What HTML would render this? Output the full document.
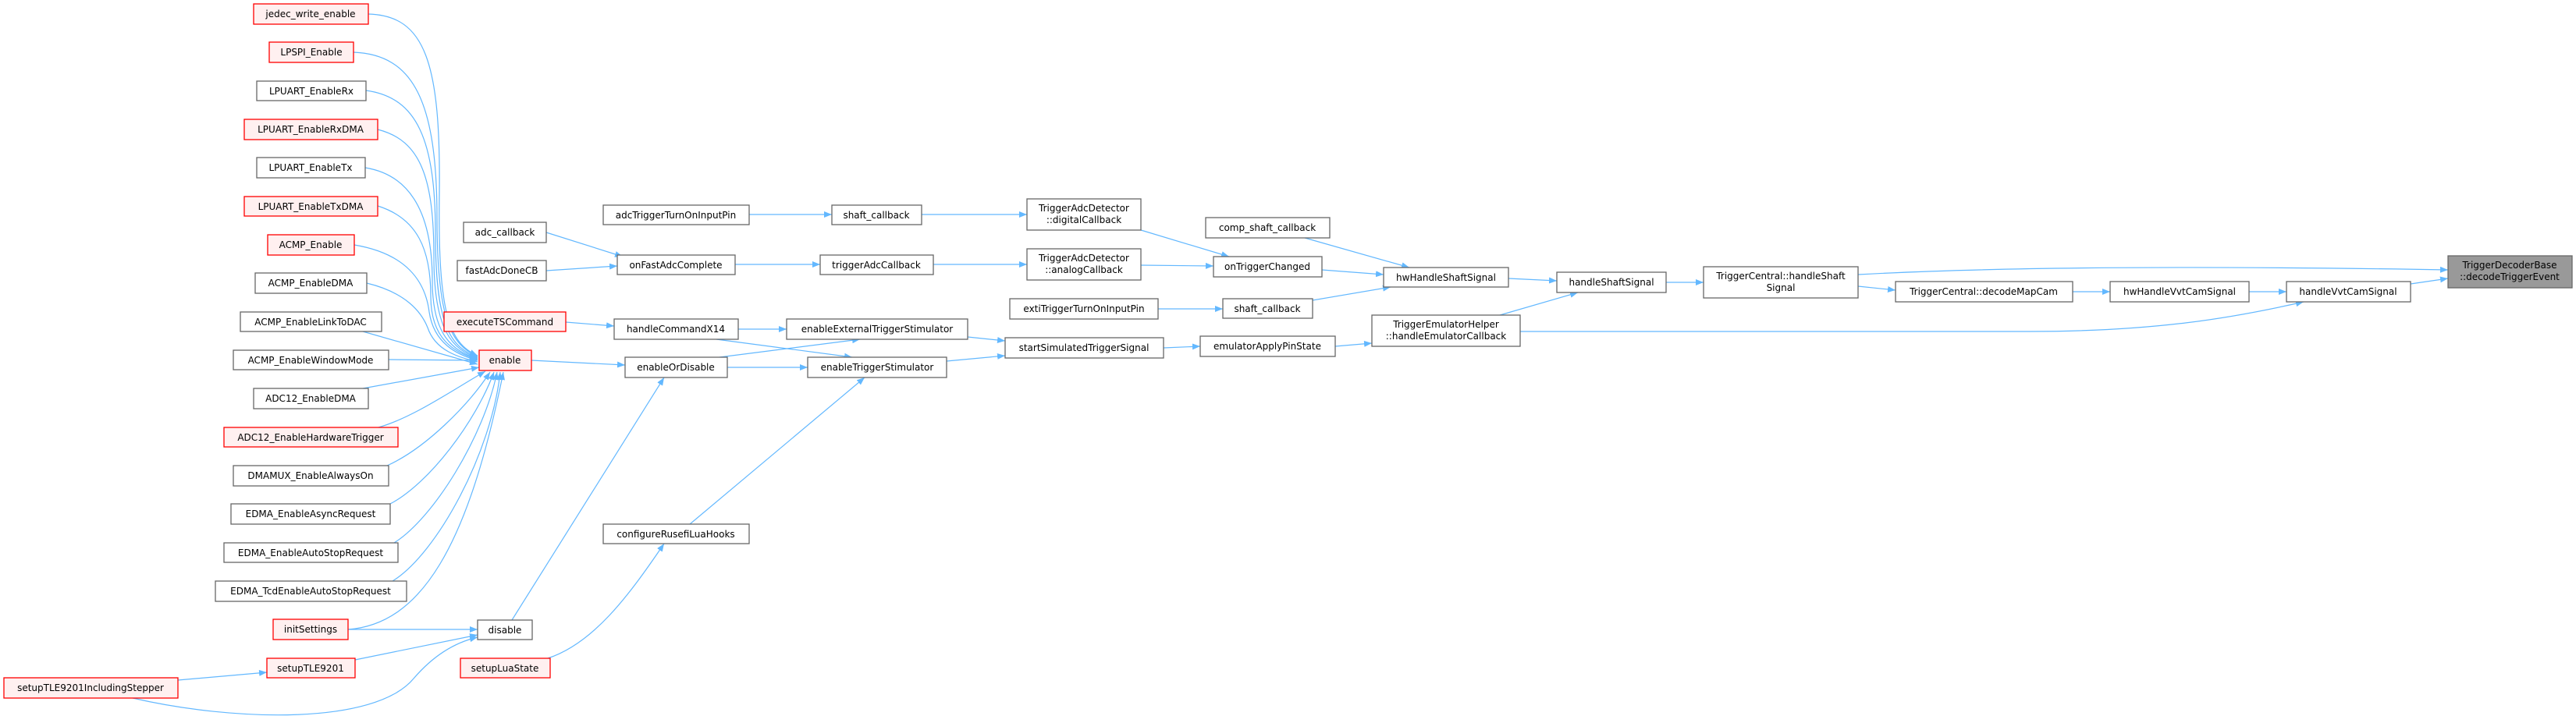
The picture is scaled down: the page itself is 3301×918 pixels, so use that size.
<!DOCTYPE html>
<html><head><meta charset="utf-8"><style>
html,body{margin:0;padding:0;background:#fff;}
svg{display:block;}
text{font-family:"DejaVu Sans","Liberation Sans",sans-serif;font-size:12px;fill:#000;text-anchor:middle;}
.n rect{fill:#fff;stroke:#666;stroke-width:1.3;}
.r rect{fill:#fff0f0;stroke:#ff0000;stroke-width:1.3;}
.g rect{fill:#999;stroke:#666;stroke-width:1.3;}
path.e{fill:none;stroke:#63b8ff;stroke-width:1.2;}
</style></head><body>
<svg width="3301" height="918" viewBox="0 0 3301 918" xmlns="http://www.w3.org/2000/svg">
<defs><marker id="a" markerUnits="userSpaceOnUse" markerWidth="11" markerHeight="8" refX="10" refY="4" orient="auto"><path d="M0,0 L10,4 L0,8 z" fill="#63b8ff"/></marker></defs>
<g marker-end="url(#a)">
<path class="e" d="M472,18 C545,20 565,80 563,250 C561,400 575,440 612,456"/>
<path class="e" d="M453,67 C530,70 560,130 560,280 C560,410 578,442 612,457"/>
<path class="e" d="M469,116 C535,125 558,180 558,300 C558,420 578,445 612,458"/>
<path class="e" d="M484,166 C540,180 556,230 556,330 C556,425 580,448 612,459"/>
<path class="e" d="M468,215 C530,225 554,280 554,360 C554,430 580,450 612,460"/>
<path class="e" d="M484,264 C535,280 552,320 552,380 C552,435 582,452 612,461"/>
<path class="e" d="M454,314 C520,325 545,360 550,400 C556,440 585,455 612,462"/>
<path class="e" d="M470,363 C520,375 540,400 548,420 C558,450 588,458 612,464"/>
<path class="e" d="M465,425 L612,467"/>
<path class="e" d="M498,461 L612,462"/>
<path class="e" d="M465,498 L614,471"/>
<path class="e" d="M485,548 C530,535 580,500 622,476"/>
<path class="e" d="M496,597 C545,575 600,520 628,477"/>
<path class="e" d="M500,646 C550,620 610,540 633,477"/>
<path class="e" d="M505,696 C555,665 620,560 637,477"/>
<path class="e" d="M503,745 C560,710 630,580 641,477"/>
<path class="e" d="M446,807 C540,800 600,700 645,477"/>
<path class="e" d="M446,807 L612,807"/>
<path class="e" d="M455,846 L612,814"/>
<path class="e" d="M228,872 L342,862"/>
<path class="e" d="M170,895 C300,925 480,930 530,870 C560,835 590,822 612,817"/>
<path class="e" d="M700,298 L798,329"/>
<path class="e" d="M700,347 L791,341"/>
<path class="e" d="M725,413 L787,418"/>
<path class="e" d="M681,462 L801,468"/>
<path class="e" d="M656,795 L851,484"/>
<path class="e" d="M702,844 C760,825 805,765 851,697"/>
<path class="e" d="M884,672 L1108,484"/>
<path class="e" d="M946,422 L1008,422"/>
<path class="e" d="M918,435 L1092,458"/>
<path class="e" d="M922,458 L1102,435"/>
<path class="e" d="M932,471 L1035,471"/>
<path class="e" d="M960,275 L1066,275"/>
<path class="e" d="M1181,275 L1316,275"/>
<path class="e" d="M942,339 L1051,339"/>
<path class="e" d="M1196,339 L1316,339"/>
<path class="e" d="M1240,432 L1288,437"/>
<path class="e" d="M1213,463 L1288,456"/>
<path class="e" d="M1462,295 L1575,329"/>
<path class="e" d="M1462,340 L1555,341"/>
<path class="e" d="M1484,396 L1567,396"/>
<path class="e" d="M1491,446 L1538,444"/>
<path class="e" d="M1672,305 L1806,343"/>
<path class="e" d="M1694,346 L1773,352"/>
<path class="e" d="M1682,385 L1782,368"/>
<path class="e" d="M1711,444 L1758,440"/>
<path class="e" d="M1933,357 L1995,360"/>
<path class="e" d="M1922,404 L2022,375"/>
<path class="e" d="M2135,362 L2183,362"/>
<path class="e" d="M2381,352 C2600,340 2900,342 3137,346"/>
<path class="e" d="M2381,367 L2429,372"/>
<path class="e" d="M2656,374 L2704,374"/>
<path class="e" d="M2882,374 L2930,374"/>
<path class="e" d="M3089,364 L3137,357"/>
<path class="e" d="M1948,425 L2600,425 C2760,425 2860,408 2952,387"/>
</g>

<g class="r"><rect x="325" y="5" width="147" height="26"/><text x="398" y="22">jedec_write_enable</text></g>
<g class="r"><rect x="345" y="54" width="108" height="26"/><text x="399" y="71">LPSPI_Enable</text></g>
<g class="n"><rect x="329" y="104" width="140" height="25"/><text x="399" y="121">LPUART_EnableRx</text></g>
<g class="r"><rect x="313" y="153" width="171" height="26"/><text x="398" y="170">LPUART_EnableRxDMA</text></g>
<g class="n"><rect x="329" y="202" width="139" height="26"/><text x="398" y="219">LPUART_EnableTx</text></g>
<g class="r"><rect x="313" y="252" width="171" height="25"/><text x="398" y="269">LPUART_EnableTxDMA</text></g>
<g class="r"><rect x="343" y="301" width="111" height="26"/><text x="398" y="318">ACMP_Enable</text></g>
<g class="n"><rect x="327" y="350" width="143" height="26"/><text x="398" y="367">ACMP_EnableDMA</text></g>
<g class="n"><rect x="308" y="400" width="181" height="25"/><text x="398" y="417">ACMP_EnableLinkToDAC</text></g>
<g class="n"><rect x="299" y="449" width="199" height="25"/><text x="398" y="466">ACMP_EnableWindowMode</text></g>
<g class="n"><rect x="325" y="498" width="147" height="26"/><text x="398" y="515">ADC12_EnableDMA</text></g>
<g class="r"><rect x="287" y="548" width="223" height="25"/><text x="398" y="565">ADC12_EnableHardwareTrigger</text></g>
<g class="n"><rect x="299" y="597" width="199" height="26"/><text x="398" y="614">DMAMUX_EnableAlwaysOn</text></g>
<g class="n"><rect x="296" y="646" width="204" height="26"/><text x="398" y="663">EDMA_EnableAsyncRequest</text></g>
<g class="n"><rect x="287" y="696" width="223" height="25"/><text x="398" y="713">EDMA_EnableAutoStopRequest</text></g>
<g class="n"><rect x="276" y="745" width="245" height="26"/><text x="398" y="762">EDMA_TcdEnableAutoStopRequest</text></g>
<g class="r"><rect x="350" y="794" width="96" height="26"/><text x="398" y="811">initSettings</text></g>
<g class="r"><rect x="342" y="844" width="113" height="25"/><text x="398" y="861">setupTLE9201</text></g>
<g class="r"><rect x="5" y="869" width="223" height="26"/><text x="116" y="886">setupTLE9201IncludingStepper</text></g>

<g class="n"><rect x="594" y="285" width="106" height="26"/><text x="647" y="302">adc_callback</text></g>
<g class="n"><rect x="586" y="334" width="114" height="26"/><text x="643" y="351">fastAdcDoneCB</text></g>
<g class="r"><rect x="569" y="400" width="156" height="25"/><text x="647" y="417">executeTSCommand</text></g>
<g class="r"><rect x="614" y="449" width="67" height="26"/><text x="647" y="466">enable</text></g>
<g class="n"><rect x="612" y="795" width="70" height="25"/><text x="647" y="812">disable</text></g>
<g class="r"><rect x="590" y="844" width="115" height="25"/><text x="647" y="861">setupLuaState</text></g>

<g class="n"><rect x="773" y="263" width="187" height="25"/><text x="866" y="280">adcTriggerTurnOnInputPin</text></g>
<g class="n"><rect x="791" y="327" width="151" height="25"/><text x="866" y="344">onFastAdcComplete</text></g>
<g class="n"><rect x="787" y="409" width="159" height="26"/><text x="866" y="426">handleCommandX14</text></g>
<g class="n"><rect x="801" y="458" width="131" height="26"/><text x="866" y="475">enableOrDisable</text></g>
<g class="n"><rect x="773" y="672" width="187" height="25"/><text x="866" y="689">configureRusefiLuaHooks</text></g>

<g class="n"><rect x="1066" y="263" width="115" height="25"/><text x="1123" y="280">shaft_callback</text></g>
<g class="n"><rect x="1051" y="327" width="145" height="25"/><text x="1123" y="344">triggerAdcCallback</text></g>
<g class="n"><rect x="1008" y="409" width="232" height="26"/><text x="1124" y="426">enableExternalTriggerStimulator</text></g>
<g class="n"><rect x="1035" y="458" width="178" height="26"/><text x="1124" y="475">enableTriggerStimulator</text></g>

<g class="n"><rect x="1316" y="255" width="146" height="40"/><text x="1389" y="271">TriggerAdcDetector</text><text x="1389" y="286">::digitalCallback</text></g>
<g class="n"><rect x="1316" y="319" width="146" height="40"/><text x="1389" y="335">TriggerAdcDetector</text><text x="1389" y="350">::analogCallback</text></g>
<g class="n"><rect x="1294" y="383" width="190" height="26"/><text x="1389" y="400">extiTriggerTurnOnInputPin</text></g>
<g class="n"><rect x="1288" y="433" width="203" height="26"/><text x="1389" y="450">startSimulatedTriggerSignal</text></g>

<g class="n"><rect x="1545" y="279" width="159" height="26"/><text x="1624" y="296">comp_shaft_callback</text></g>
<g class="n"><rect x="1555" y="329" width="139" height="26"/><text x="1624" y="346">onTriggerChanged</text></g>
<g class="n"><rect x="1567" y="383" width="115" height="25"/><text x="1624" y="400">shaft_callback</text></g>
<g class="n"><rect x="1538" y="431" width="173" height="26"/><text x="1624" y="448">emulatorApplyPinState</text></g>

<g class="n"><rect x="1773" y="343" width="160" height="25"/><text x="1853" y="360">hwHandleShaftSignal</text></g>
<g class="n"><rect x="1758" y="404" width="190" height="40"/><text x="1853" y="420">TriggerEmulatorHelper</text><text x="1853" y="435">::handleEmulatorCallback</text></g>
<g class="n"><rect x="1995" y="349" width="140" height="26"/><text x="2065" y="366">handleShaftSignal</text></g>
<g class="n"><rect x="2183" y="342" width="198" height="40"/><text x="2282" y="358">TriggerCentral::handleShaft</text><text x="2282" y="373">Signal</text></g>
<g class="n"><rect x="2429" y="361" width="227" height="26"/><text x="2542" y="378">TriggerCentral::decodeMapCam</text></g>
<g class="n"><rect x="2704" y="361" width="178" height="26"/><text x="2793" y="378">hwHandleVvtCamSignal</text></g>
<g class="n"><rect x="2930" y="361" width="159" height="26"/><text x="3009" y="378">handleVvtCamSignal</text></g>
<g class="g"><rect x="3137" y="328" width="159" height="41"/><text x="3216" y="344">TriggerDecoderBase</text><text x="3216" y="359">::decodeTriggerEvent</text></g>
</svg>
</body></html>
